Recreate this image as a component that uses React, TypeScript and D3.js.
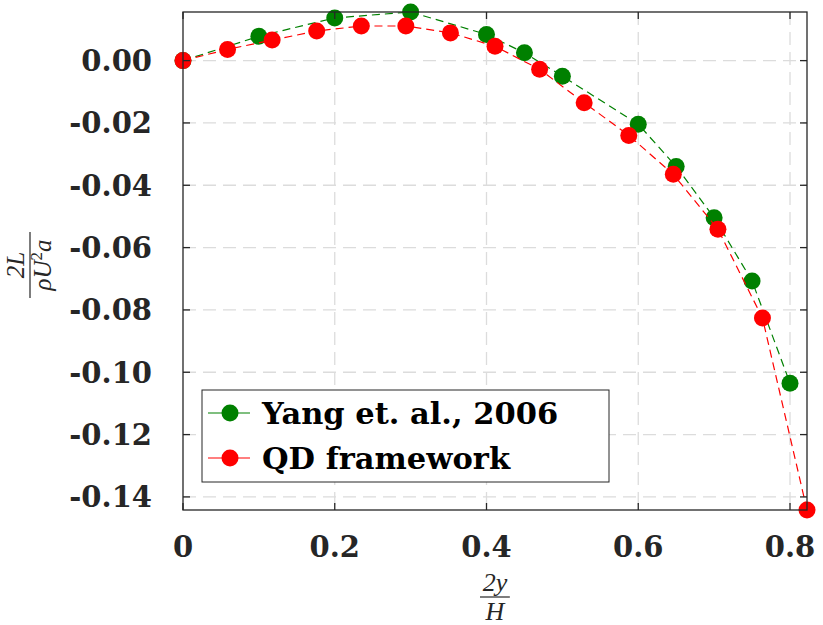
import { useMemo } from "react";
import * as d3 from "d3";

// Yang et al. (2006) reference points
const YANG_X = [0, 0.1, 0.2, 0.3, 0.4, 0.45, 0.5, 0.6, 0.65, 0.7, 0.75, 0.8];
const YANG_Y = [0, 0.0078, 0.0137, 0.0156, 0.0084, 0.0025, -0.005, -0.0204, -0.034, -0.0504, -0.0707, -0.1035];

// QD framework results
const QD_X = [0, 0.0587, 0.1175, 0.1762, 0.235, 0.2937, 0.3525, 0.4112, 0.47, 0.5287, 0.5875, 0.6462, 0.705, 0.7637, 0.8224];
const QD_Y = [0, 0.0036, 0.0066, 0.0095, 0.0111, 0.0111, 0.0089, 0.0046, -0.0028, -0.0135, -0.024, -0.0365, -0.0541, -0.0826, -0.1442];

const X_TICKS = [0, 0.2, 0.4, 0.6, 0.8];
const Y_TICKS = [0, -0.02, -0.04, -0.06, -0.08, -0.1, -0.12, -0.14];

const SERIES = [
  { name: "Yang et. al., 2006", xs: YANG_X, ys: YANG_Y, color: "#008000" },
  { name: "QD framework", xs: QD_X, ys: QD_Y, color: "#ff0000" },
];

const W = 823;
const H = 625;
const M = { left: 183, right: 807, top: 12, bottom: 510 };
const TICK_FONT = "'DejaVu Serif', serif";
const MATH_FONT = "'Liberation Serif', 'DejaVu Serif', serif";
const AXIS = "#262626";
const R = 8.5;

export default function App() {
  const x = useMemo(
    () => d3.scaleLinear().domain([0, d3.max(QD_X)!]).range([M.left, M.right]),
    []
  );
  const y = useMemo(
    () =>
      d3
        .scaleLinear()
        .domain([d3.min(QD_Y)!, d3.max(YANG_Y)!])
        .range([M.bottom, M.top]),
    []
  );

  const line = (xs: number[], ys: number[]) =>
    d3
      .line<number>()
      .x((_, i) => x(xs[i]))
      .y((d) => y(d))(ys) ?? "";

  const fmtY = (v: number) => (Math.abs(v) < 1e-9 ? "0.00" : v.toFixed(2));
  const fmtX = (v: number) => (v === 0 ? "0" : v.toFixed(1));

  const legX = 202;
  const legY = 390;
  const rowY = [413, 458];

  return (
    <svg width={W} height={H} style={{ display: "block", background: "#fff" }}>
      <style>{`body{margin:0}`}</style>

      {/* grid */}
      <g stroke="#dcdcdc" strokeWidth={1.3} strokeDasharray="13,7">
        {X_TICKS.filter((t) => t > 0).map((t) => (
          <line key={`gx${t}`} x1={x(t)} x2={x(t)} y1={M.top} y2={M.bottom} />
        ))}
        {Y_TICKS.map((t) => (
          <line key={`gy${t}`} x1={M.left} x2={M.right} y1={y(t)} y2={y(t)} />
        ))}
      </g>

      {/* data lines and markers */}
      {SERIES.map((s) => (
        <g key={s.name}>
          <path
            d={line(s.xs, s.ys)}
            fill="none"
            stroke={s.color}
            strokeWidth={1.2}
            strokeDasharray="8,5"
          />
          {s.ys.map((v, i) => (
            <circle key={i} cx={x(s.xs[i])} cy={y(v)} r={R} fill={s.color} />
          ))}
        </g>
      ))}

      {/* axes box and ticks */}
      <g stroke={AXIS} strokeWidth={1.3} fill="none">
        <rect x={M.left} y={M.top} width={M.right - M.left} height={M.bottom - M.top} />
        {X_TICKS.map((t) => (
          <g key={`tx${t}`}>
            <line x1={x(t)} x2={x(t)} y1={M.bottom} y2={M.bottom - 7} />
            <line x1={x(t)} x2={x(t)} y1={M.top} y2={M.top + 7} />
          </g>
        ))}
        {Y_TICKS.map((t) => (
          <g key={`ty${t}`}>
            <line x1={M.left} x2={M.left + 7} y1={y(t)} y2={y(t)} />
            <line x1={M.right} x2={M.right - 7} y1={y(t)} y2={y(t)} />
          </g>
        ))}
      </g>

      {/* tick labels */}
      <g fontFamily={TICK_FONT} fontWeight="bold" fontSize={29} fill={AXIS}>
        {X_TICKS.map((t) => (
          <text key={`lx${t}`} x={x(t)} y={557} textAnchor="middle">
            {fmtX(t)}
          </text>
        ))}
        {Y_TICKS.map((t) => (
          <text key={`ly${t}`} x={152} y={y(t) + 10.5} textAnchor="end">
            {fmtY(t)}
          </text>
        ))}
      </g>

      {/* x label: 2y / H */}
      <g fontFamily={MATH_FONT} fontStyle="italic" fontSize={26} fill={AXIS} textAnchor="middle">
        <text x={495} y={591}>2y</text>
        <line x1={480} x2={510} y1={597} y2={597} stroke={AXIS} strokeWidth={1.2} />
        <text x={495} y={620}>H</text>
      </g>

      {/* y label: 2L / (rho U^2 a) */}
      <g transform="translate(30,265) rotate(-90)" fontFamily={MATH_FONT} fontStyle="italic" fontSize={25} fill={AXIS} textAnchor="middle">
        <text x={0} y={-6}>2L</text>
        <line x1={-33} x2={33} y1={0} y2={0} stroke={AXIS} strokeWidth={1.2} />
        <text x={0} y={21}>
          ρU<tspan dy={-9} fontSize={17} fontStyle="normal">2</tspan>
          <tspan dy={9}>a</tspan>
        </text>
      </g>

      {/* legend */}
      <g>
        <rect x={legX} y={legY} width={407} height={92} fill="#fff" stroke={AXIS} strokeWidth={1} />
        {SERIES.map((s, i) => (
          <g key={`leg${s.name}`}>
            <line x1={208} x2={250} y1={rowY[i]} y2={rowY[i]} stroke={s.color} strokeWidth={1.2} />
            <circle cx={230} cy={rowY[i]} r={R} fill={s.color} />
            <text
              x={262}
              y={rowY[i] + 11}
              fontFamily={TICK_FONT}
              fontWeight="bold"
              fontSize={30.5}
              fill="#000"
            >
              {s.name}
            </text>
          </g>
        ))}
      </g>
    </svg>
  );
}
